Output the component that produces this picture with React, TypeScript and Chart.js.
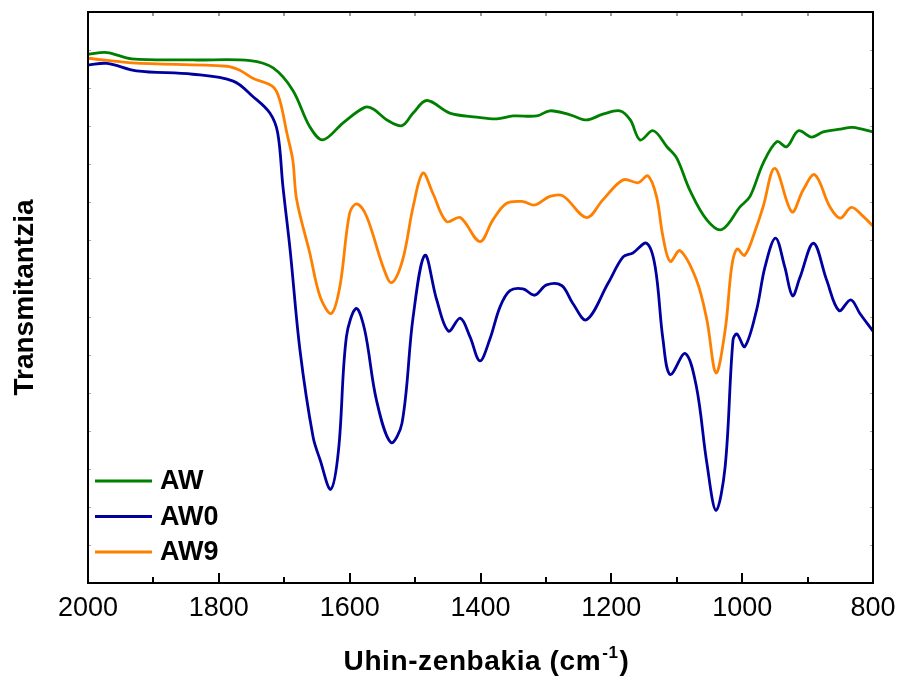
import React, { useEffect, useRef } from "react";
import { Chart, registerables } from "chart.js";

Chart.register(...registerables);

// Wavenumbers (cm-1) and transmittance (arbitrary units)
const awWave = [2000, 1971, 1933, 1840, 1752, 1717, 1687, 1661, 1641, 1610, 1577, 1564, 1543, 1520, 1503, 1482, 1447, 1406, 1375, 1350, 1314, 1294, 1263, 1238, 1213, 1187, 1171, 1156, 1136, 1115, 1100, 1080, 1054, 1031, 1003, 988, 968, 947, 932, 914, 894, 876, 850, 831, 800];
const awValues = [92.6, 92.9, 91.8, 91.6, 91.5, 90.2, 86.3, 79.9, 77.6, 80.6, 83.3, 83.0, 81.1, 80.1, 82.3, 84.5, 82.3, 81.6, 81.3, 81.8, 81.8, 82.7, 82.0, 81.1, 82.1, 82.7, 81.1, 77.6, 79.2, 76.4, 74.4, 68.8, 63.6, 61.9, 65.9, 67.7, 73.5, 77.3, 76.4, 79.2, 78.1, 79.0, 79.5, 79.8, 79.0];

const aw0Wave = [2000, 1971, 1926, 1840, 1778, 1748, 1722, 1710, 1702, 1691, 1676, 1656, 1645, 1629, 1617, 1605, 1590, 1577, 1559, 1537, 1520, 1503, 1485, 1467, 1449, 1431, 1416, 1401, 1386, 1370, 1355, 1335, 1317, 1299, 1276, 1259, 1238, 1205, 1182, 1167, 1146, 1133, 1121, 1110, 1087, 1070, 1054, 1040, 1026, 1014, 1008, 996, 978, 965, 949, 935, 923, 912, 891, 871, 852, 834, 820, 800];
const aw0Values = [90.7, 91.0, 89.7, 89.1, 87.9, 85.2, 82.3, 78.8, 69.4, 58.3, 40.8, 25.6, 21.5, 16.4, 23.3, 43.1, 48.1, 44.3, 32.0, 24.6, 28.0, 46.6, 57.4, 49.6, 44.1, 46.4, 43.1, 38.9, 42.6, 48.4, 51.2, 51.5, 50.4, 52.2, 52.1, 49.0, 46.1, 52.5, 57.1, 57.8, 59.5, 55.4, 42.6, 36.5, 40.2, 34.4, 21.0, 12.7, 20.4, 42.6, 43.6, 41.4, 47.8, 55.4, 60.4, 55.4, 50.3, 53.4, 59.5, 53.1, 47.7, 49.6, 47.2, 44.1];

const aw9Wave = [2000, 1933, 1788, 1768, 1748, 1717, 1707, 1696, 1687, 1681, 1661, 1645, 1628, 1615, 1600, 1589, 1574, 1549, 1536, 1519, 1503, 1488, 1473, 1452, 1431, 1401, 1381, 1360, 1335, 1317, 1294, 1274, 1238, 1213, 1182, 1159, 1144, 1131, 1121, 1110, 1095, 1070, 1054, 1040, 1026, 1016, 1008, 996, 978, 968, 950, 924, 907, 889, 866, 850, 833, 815, 800];
const aw9Values = [91.9, 91.1, 90.5, 89.8, 88.4, 86.9, 84.6, 78.8, 74.1, 67.1, 57.8, 50.1, 47.2, 51.9, 64.8, 66.4, 64.2, 55.4, 52.6, 56.6, 65.9, 71.8, 68.3, 63.3, 64.0, 59.8, 63.6, 66.5, 66.8, 66.2, 67.7, 67.8, 64.0, 67.1, 70.6, 70.1, 71.3, 67.7, 60.6, 56.3, 58.2, 53.1, 46.1, 36.8, 44.3, 55.4, 58.5, 57.4, 62.4, 65.9, 72.6, 65.0, 68.8, 71.5, 65.9, 63.9, 65.8, 64.2, 62.5];

const seriesLabels = ["AW", "AW0", "AW9"];
const seriesColors = ["#008000", "#0000A0", "#FF8000"];
const xTickValues = [800, 1000, 1200, 1400, 1600, 1800, 2000];
const xTitleMain = "Uhin-zenbakia (cm";
const xTitleSup = "-1";
const xTitleEnd = ")";
const yTitle = "Transmitantzia";

const FONT = "Arial, 'Liberation Sans', Helvetica, sans-serif";

const toPoints = (xs: number[], ys: number[]) => xs.map((x, i) => ({ x, y: ys[i] }));

const framePlugin = {
  id: "frameAndTicks",
  afterDraw(chart: any) {
    const ctx = chart.ctx;
    const { left, right, top, bottom } = chart.chartArea;
    const xs = chart.scales.x;
    const ys = chart.scales.y;
    ctx.save();
    // x ticks (inward)
    for (let v = 800; v <= 2000; v += 100) {
      const px = Math.round(xs.getPixelForValue(v));
      const major = v % 200 === 0;
      ctx.strokeStyle = "#000";
      ctx.lineWidth = 2;
      ctx.beginPath();
      ctx.moveTo(px, bottom);
      ctx.lineTo(px, bottom - (major ? 10 : 6));
      ctx.stroke();
      ctx.lineWidth = 1.2;
      ctx.strokeStyle = "#555";
      ctx.beginPath();
      ctx.moveTo(px, top);
      ctx.lineTo(px, top + 4);
      ctx.stroke();
    }
    // y ticks (faint, inward)
    ctx.strokeStyle = "#aaa";
    ctx.lineWidth = 1;
    for (let k = 1; k < 15; k++) {
      const py = Math.round(ys.getPixelForValue((100 / 15) * k)) + 0.5;
      ctx.beginPath();
      ctx.moveTo(left, py);
      ctx.lineTo(left + 3, py);
      ctx.moveTo(right, py);
      ctx.lineTo(right - 3, py);
      ctx.stroke();
    }
    // frame
    ctx.strokeStyle = "#000";
    ctx.lineWidth = 2;
    ctx.strokeRect(left, top, right - left, bottom - top);

    // legend
    const ds = chart.data.datasets;
    ctx.textBaseline = "middle";
    ctx.font = `bold 27px ${FONT}`;
    ds.forEach((d: any, i: number) => {
      const y = bottom - 102 + i * 35.5;
      ctx.strokeStyle = d.borderColor;
      ctx.lineWidth = 3;
      ctx.beginPath();
      ctx.moveTo(left + 7, y);
      ctx.lineTo(left + 64, y);
      ctx.stroke();
      ctx.fillStyle = "#000";
      ctx.fillText(d.label, left + 72, y + 1);
    });

    // x title with superscript
    const mainFont = `bold 28px ${FONT}`;
    const supFont = `bold 17px ${FONT}`;
    ctx.font = mainFont;
    (ctx as any).letterSpacing = "0.6px";
    const w1 = ctx.measureText(xTitleMain).width;
    const w3 = ctx.measureText(xTitleEnd).width;
    ctx.font = supFont;
    const w2 = ctx.measureText(xTitleSup).width;
    const total = w1 + w2 + w3 + 2;
    const x0 = (left + right) / 2 + 6 - total / 2;
    const base = xs.bottom - 9;
    ctx.textBaseline = "alphabetic";
    ctx.fillStyle = "#000";
    ctx.font = mainFont;
    ctx.fillText(xTitleMain, x0, base);
    ctx.font = supFont;
    ctx.fillText(xTitleSup, x0 + w1 + 1, base - 12);
    ctx.font = mainFont;
    ctx.fillText(xTitleEnd, x0 + w1 + w2 + 2, base);
    ctx.restore();
  },
};

export default function App() {
  const ref = useRef<HTMLCanvasElement | null>(null);
  useEffect(() => {
    document.body.style.margin = "0";
    const canvas = ref.current;
    if (!canvas) return;
    const values = [awValues, aw0Values, aw9Values];
    const waves = [awWave, aw0Wave, aw9Wave];
    const chart = new Chart(canvas, {
      type: "line",
      data: {
        datasets: seriesLabels.map((label, i) => ({
          label,
          data: toPoints(waves[i], values[i]),
          borderColor: seriesColors[i],
          backgroundColor: seriesColors[i],
          borderWidth: 2.8,
          pointRadius: 0,
          fill: false,
          tension: 0.35,
          borderJoinStyle: "round" as const,
        })),
      },
      options: {
        responsive: false,
        animation: false,
        devicePixelRatio: 1,
        layout: { padding: { top: 12, right: 25, left: 0, bottom: 0 } },
        plugins: { legend: { display: false }, tooltip: { enabled: false } },
        scales: {
          x: {
            type: "linear",
            reverse: true,
            min: 800,
            max: 2000,
            afterBuildTicks: (scale: any) => {
              scale.ticks = xTickValues.map((v) => ({ value: v }));
            },
            afterFit: (scale: any) => {
              scale.height = 96;
            },
            grid: { display: false, drawTicks: false },
            border: { display: false },
            ticks: {
              color: "#000",
              font: { family: FONT, size: 27 },
              padding: 9,
              maxRotation: 0,
              autoSkip: false,
              callback: (v: any) => String(v),
            },
          },
          y: {
            type: "linear",
            min: 0,
            max: 100,
            afterFit: (scale: any) => {
              scale.width = 88;
            },
            grid: { display: false, drawTicks: false },
            border: { display: false },
            ticks: { display: false },
            title: {
              display: true,
              text: yTitle,
              color: "#000",
              font: { family: FONT, size: 28, weight: "bold" },
              padding: { top: 8, bottom: 0 },
            },
          },
        },
      },
      plugins: [framePlugin],
    } as any);
    return () => chart.destroy();
  }, []);
  return (
    <div style={{ width: 898, height: 679 }}>
      <canvas ref={ref} width={898} height={679} style={{ display: "block" }} />
    </div>
  );
}
